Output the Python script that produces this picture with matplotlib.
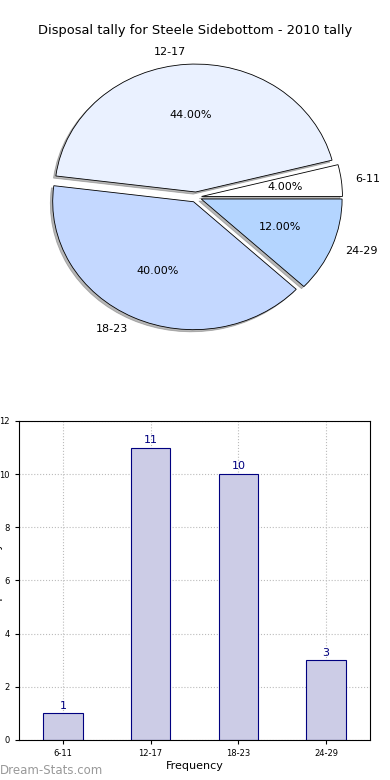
import matplotlib
matplotlib.use("Agg")
from matplotlib import pyplot as plt

# data
groups = ['6-11', '12-17', '18-23', '24-29']
counts = [1, 11, 10, 3]
pie_colors = ['#FFFFFF', '#EAF1FF', '#C4D8FF', '#B4D5FF']
explode = [0.04, 0.04, 0.04, 0.04]

fig = plt.figure(figsize=(3.9, 7.8), dpi=100)

# pie
ax1 = fig.add_axes([0.051, 0.5423, 0.903, 0.41])
wedges, texts, autotexts = ax1.pie(counts, labels=groups, colors=pie_colors, explode=explode,
                                   autopct='%1.2f%%', startangle=0,
                                   shadow={'ox': -0.012, 'oy': -0.012, 'color': '#707070'},
                                   wedgeprops={'edgecolor': 'black', 'linewidth': 0.6},
                                   textprops={'fontsize': 8})
ax1.set_aspect('auto')
ax1.set_xlim(-1.25, 1.25)
ax1.set_ylim(-1.25, 1.25)
fig.text(0.5, 0.961, 'Disposal tally for Steele Sidebottom - 2010 tally',
         ha='center', va='center', fontsize=9.4)

# bars
ax2 = fig.add_axes([0.0487, 0.0513, 0.9, 0.409])
x = range(len(groups))
ax2.bar(x, counts, width=0.45, color='#CCCCE6', edgecolor='#000080', linewidth=0.8, zorder=2)
for i, c in zip(x, counts):
    ax2.text(i, c + 0.1, str(c), ha='center', va='bottom', color='#000080', fontsize=8)
ax2.set_xlim(-0.5, 3.5)
ax2.set_ylim(0, 12)
ax2.set_xticks(list(x))
ax2.set_xticklabels(groups, fontsize=6)
ax2.set_yticks(range(0, 13, 2))
ax2.tick_params(axis='y', labelsize=6)
ax2.tick_params(length=3)
ax2.grid(True, linestyle=':', color='#BBBBBB', linewidth=0.8, zorder=0)
ax2.set_xlabel('Frequency', fontsize=8, labelpad=2)
ax2.set_ylabel('Disposal Tally', fontsize=8)
ax2.yaxis.set_label_coords(-0.045, 0.5)

fig.text(0.0, 0.012, 'Dream-Stats.com', ha='left', va='center', fontsize=8.5,
         color='#999999')

plt.savefig('out.png', dpi=100)
